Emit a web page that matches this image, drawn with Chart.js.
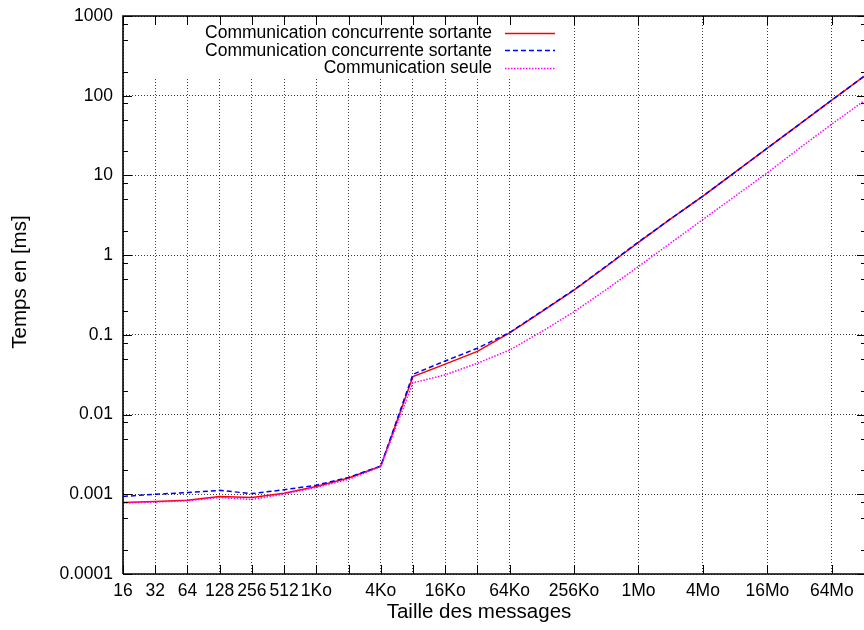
<!DOCTYPE html>
<html><head><meta charset="utf-8">
<script src="https://cdn.jsdelivr.net/npm/chart.js@4.4.0/dist/chart.umd.min.js"></script>
<style>html,body{margin:0;padding:0;background:#fff;} canvas{display:block;}</style>
</head><body>
<canvas id="c" width="864" height="630"></canvas>
<script>
// ---- data ----
const sizes = [16, 32, 64, 128, 256, 512, 1024, 2048, 4096, 8192, 16384, 32768, 65536,
  131072, 262144, 524288, 1048576, 2097152, 4194304, 8388608, 16777216, 33554432, 67108864, 134217728];
const seriesNames = ['Communication concurrente sortante', 'Communication concurrente sortante', 'Communication seule'];
const concurrentA = [0.00079, 0.00081, 0.00084, 0.00094, 0.00091, 0.00103, 0.00125, 0.00160, 0.00225,
  0.0300, 0.0430, 0.0620, 0.106, 0.195, 0.365, 0.72, 1.45, 2.85, 5.5, 11.0, 22.0, 44.0, 88.0, 175];
const concurrentB = [0.00094, 0.00100, 0.00105, 0.00112, 0.00102, 0.00114, 0.00130, 0.00163, 0.00226,
  0.0320, 0.0470, 0.0680, 0.107, 0.198, 0.368, 0.73, 1.46, 2.86, 5.5, 11.0, 22.0, 44.0, 88.0, 175];
const seule = [0.00078, 0.00080, 0.00083, 0.00091, 0.00086, 0.00101, 0.00122, 0.00154, 0.00222,
  0.0250, 0.0315, 0.0440, 0.0645, 0.110, 0.195, 0.37, 0.72, 1.42, 2.8, 5.5, 10.8, 22.0, 44.0, 86];
const xTickValues = [16, 32, 64, 128, 256, 512, 1024, 2048, 4096, 8192, 16384, 32768, 65536,
  262144, 1048576, 4194304, 16777216, 67108864];
const xTickLabels = ['16', '32', '64', '128', '256', '512', '1Ko', '', '4Ko', '', '16Ko', '', '64Ko',
  '256Ko', '1Mo', '4Mo', '16Mo', '64Mo'];
const yTickValues = [0.0001, 0.001, 0.01, 0.1, 1, 10, 100, 1000];
const yTickLabels = ['0.0001', '0.001', '0.01', '0.1', '1', '10', '100', '1000'];
const yMinorFactors = [2, 5, 8];
const xTitle = 'Taille des messages';
const yTitle = 'Temps en [ms]';

// ---- chart ----
const FONT = "'Liberation Sans', Arial, sans-serif";
Chart.defaults.font.family = FONT;
Chart.defaults.font.size = 17.5;
Chart.defaults.color = '#000';

const framePlugin = {
  id: 'gnuplotFrame',
  beforeDatasetsDraw(chart) {
    const a = chart.chartArea, ctx = chart.ctx;
    ctx.save();
    ctx.fillStyle = '#fff';
    ctx.fillRect(a.left + 8, a.top + 1, 432, 60);
    ctx.restore();
  },
  afterDatasetsDraw(chart) {
    const a = chart.chartArea, ctx = chart.ctx;
    const xs = chart.scales.x, ys = chart.scales.y;
    const rightB = a.right + 2;
    ctx.save();
    ctx.strokeStyle = '#000';
    ctx.lineWidth = 1;
    ctx.setLineDash([]);
    ctx.beginPath();
    xTickValues.forEach(v => {
      const p = Math.round(xs.getPixelForValue(v)) + 0.5;
      ctx.moveTo(p, a.bottom); ctx.lineTo(p, a.bottom - 9);
      ctx.moveTo(p, a.top); ctx.lineTo(p, a.top + 9);
    });
    yTickValues.forEach(v => {
      const p = Math.round(ys.getPixelForValue(v)) + 0.5;
      ctx.moveTo(a.left, p); ctx.lineTo(a.left + 9, p);
      ctx.moveTo(rightB, p); ctx.lineTo(rightB - 9, p);
    });
    yTickValues.slice(0, -1).forEach(d => {
      yMinorFactors.forEach(f => {
        const p = Math.round(ys.getPixelForValue(d * f)) + 0.5;
        ctx.moveTo(a.left, p); ctx.lineTo(a.left + 5, p);
        ctx.moveTo(rightB, p); ctx.lineTo(rightB - 5, p);
      });
    });
    ctx.stroke();
    // frame
    ctx.lineWidth = 1.6;
    ctx.beginPath();
    ctx.moveTo(a.left, a.bottom); ctx.lineTo(a.left, a.top); ctx.lineTo(a.right + 2, a.top);
    ctx.moveTo(a.left, a.bottom); ctx.lineTo(a.right + 2, a.bottom);
    ctx.stroke();
    // key
    ctx.font = "17.5px " + FONT;
    ctx.fillStyle = '#000';
    ctx.textAlign = 'right';
    ctx.textBaseline = 'middle';
    chart.data.datasets.forEach((ds, i) => {
      const y = a.top + 16.5 + i * 17.7;
      ctx.fillText(ds.label, a.left + 369, y + 0.5);
      ctx.strokeStyle = ds.borderColor;
      ctx.lineWidth = ds.borderWidth;
      ctx.setLineDash(ds.borderDash || []);
      ctx.beginPath();
      ctx.moveTo(a.left + 382, Math.round(y) + 0.5);
      ctx.lineTo(a.left + 432, Math.round(y) + 0.5);
      ctx.stroke();
    });
    ctx.restore();
  },
  afterDraw(chart) {
    const ctx = chart.ctx;
    ctx.save();
    ctx.font = "20.5px " + FONT;
    ctx.fillStyle = '#000';
    ctx.textAlign = 'center';
    ctx.textBaseline = 'middle';
    ctx.fillText(xTitle, 479, 612);
    ctx.translate(20, 282);
    ctx.rotate(-Math.PI / 2);
    ctx.fillText(yTitle, 0, 0);
    ctx.restore();
  }
};

const mk = arr => sizes.map((x, i) => ({ x: x, y: arr[i] }));

new Chart(document.getElementById('c'), {
  type: 'line',
  data: {
    datasets: [
      { label: seriesNames[0], data: mk(concurrentA), borderColor: '#ff0000', borderWidth: 1.5, order: 3 },
      { label: seriesNames[1], data: mk(concurrentB), borderColor: '#0000ff', borderWidth: 1.5, borderDash: [5, 3], order: 2 },
      { label: seriesNames[2], data: mk(seule), borderColor: '#ff00ff', borderWidth: 1.5, borderDash: [1.5, 1.5], order: 1 }
    ]
  },
  options: {
    responsive: false,
    animation: false,
    devicePixelRatio: 1,
    layout: { padding: { top: 16, right: 0, left: 0, bottom: 0 } },
    elements: { point: { radius: 0 }, line: { tension: 0, fill: false } },
    plugins: { legend: { display: false }, tooltip: { enabled: false } },
    scales: {
      x: {
        type: 'logarithmic', min: 16, max: 134217728,
        afterBuildTicks: s => { s.ticks = xTickValues.map(v => ({ value: v })); },
        afterFit: s => { s.height = 56; s.paddingLeft = 0; s.paddingRight = 0; },
        ticks: { autoSkip: false, maxRotation: 0, minRotation: 0, padding: 7,
          callback: (v, i) => xTickLabels[i] },
        grid: { color: 'rgba(0,0,0,0.75)', lineWidth: 1, drawTicks: false },
        border: { display: false, dash: [1, 2] }
      },
      y: {
        type: 'logarithmic', min: 0.0001, max: 1000,
        afterBuildTicks: s => { s.ticks = yTickValues.map(v => ({ value: v })); },
        afterFit: s => { s.width = 123; s.paddingTop = 0; s.paddingBottom = 0; },
        ticks: { autoSkip: false, padding: 10, callback: (v, i) => yTickLabels[i] },
        grid: { color: 'rgba(0,0,0,0.75)', lineWidth: 1, drawTicks: false },
        border: { display: false, dash: [1, 2] }
      }
    }
  },
  plugins: [framePlugin]
});
</script>
</body></html>
